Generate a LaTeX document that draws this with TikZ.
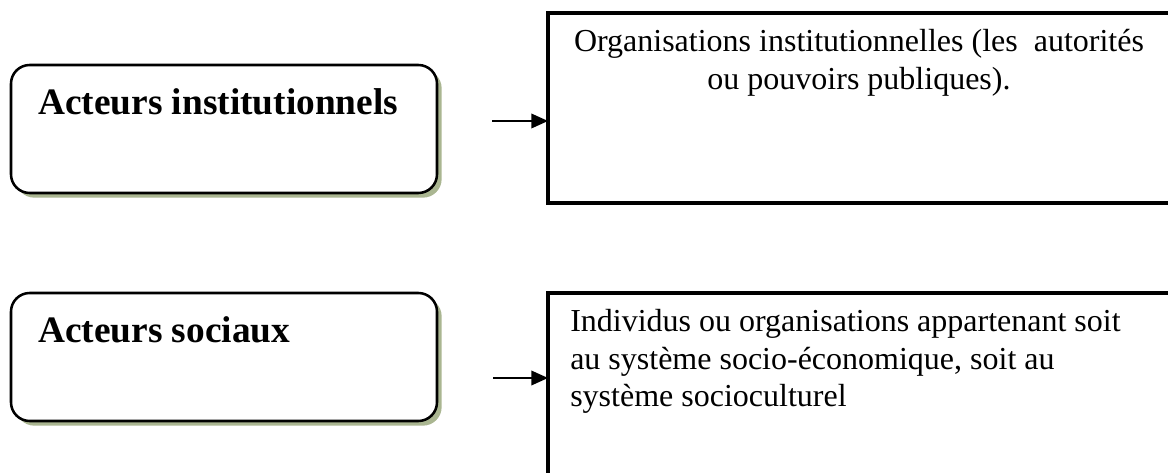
\documentclass[tikz,border=0pt]{standalone}
\usepackage{fontspec}
\setmainfont{Liberation Serif}
\usetikzlibrary{arrows.meta,shadows}
\definecolor{shadowolive}{RGB}{170,182,145}
\tikzset{
  actorbox/.style={draw=black, line width=1.9pt, rounded corners=14pt, fill=white,
    minimum width=319.5pt, minimum height=96pt, inner sep=0pt, outer sep=0pt, anchor=north west,
    drop shadow={shadow xshift=3.5pt, shadow yshift=-3.5pt, fill=shadowolive, opacity=1}},
  descbox/.style={draw=black, line width=3pt, fill=white, inner sep=0pt, outer sep=0pt,
    anchor=north west, minimum width=466.5pt},
  titletext/.style={anchor=base west, inner sep=0pt, font=\fontsize{28pt}{33pt}\selectfont\bfseries},
  desctext/.style={inner sep=0pt, font=\fontsize{24pt}{28.5pt}\selectfont},
  link/.style={line width=1.1pt, -{Triangle[length=12.5pt,width=11pt]}}
}
\begin{document}
\begin{tikzpicture}[x=0.75pt,y=-0.75pt]
\useasboundingbox (0,0) rectangle (1168,473);
\clip (0,0) rectangle (1168,473);
% left boxes
\node[actorbox] (a1) at (11,65) {};
\node[actorbox] (a2) at (11,293) {};
\node[titletext] (t1) at (38,115) {Acteurs institutionnels};
\node[titletext] (t2) at (38,343) {Acteurs sociaux};
% right boxes
\node[descbox, minimum height=142.5pt] (d1) at (548,13) {};
\node[descbox, minimum height=180pt] (d2) at (548,293) {};
\node[desctext, anchor=base] (l11) at (859,52) {Organisations institutionnelles (les\ \ autorités};
\node[desctext, anchor=base] (l12) at (859,90) {ou pouvoirs publiques).};
\node[desctext, anchor=base west] (l21) at (570,332) {Individus ou organisations appartenant soit};
\node[desctext, anchor=base west] (l22) at (570,370) {au système socio-économique, soit au};
\node[desctext, anchor=base west] (l23) at (570,407) {système socioculturel};
% arrows
\coordinate (s1) at (492,121);
\coordinate (s2) at (493,378);
\draw[link] (s1) -- (s1 -| d1.west);
\draw[link] (s2) -- (s2 -| d2.west);
\end{tikzpicture}
\end{document}
